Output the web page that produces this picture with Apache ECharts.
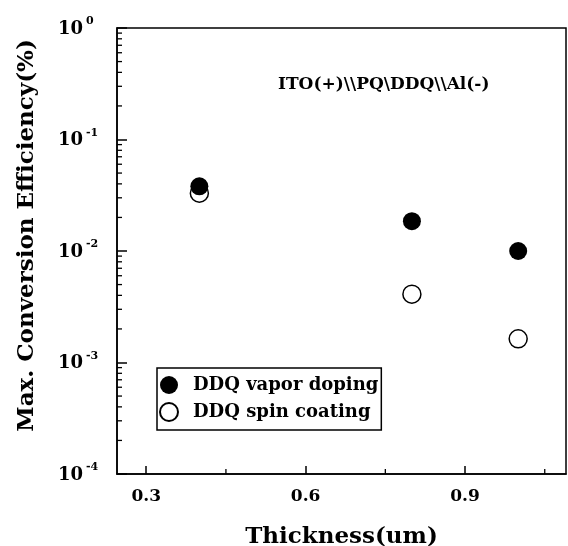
<!DOCTYPE html>
<html>
<head>
<meta charset="utf-8">
<script src="https://cdn.jsdelivr.net/npm/echarts@6/dist/echarts.min.js"></script>
<style>html,body{margin:0;padding:0;background:#fff}#c{width:568px;height:546px}</style>
</head>
<body>
<div id="c"></div>
<script>
// ---- data ----
const thickness = [0.4, 0.8, 1.0];
const vaporDoping = [0.038, 0.0185, 0.0100];
const spinCoating = [0.033, 0.0041, 0.00163];
const seriesNames = ['DDQ vapor doping', 'DDQ spin coating'];
const xMajorTicks = [0.3, 0.6, 0.9];
const xMinorTicks = [0.45, 0.75, 1.05];
const yMajorTicks = [0.0001, 0.001, 0.01, 0.1, 1];
const yMinorMultipliers = [2, 3, 4, 5, 6, 7, 8, 9];
const annotation = 'ITO(+)\\\\PQ\\DDQ\\\\Al(-)';
const xTitle = 'Thickness(um)';
const yTitle = 'Max. Conversion Efficiency(%)';

const X_MIN = 0.245, X_MAX = 1.09;
const FONT = 'DejaVu Serif';

const yMinorTicks = [];
for (let k = 0; k < yMajorTicks.length - 1; k++) {
  yMinorMultipliers.forEach(m => yMinorTicks.push(+(m * yMajorTicks[k]).toPrecision(3)));
}

const chart = echarts.init(document.getElementById('c'), null, {renderer: 'canvas'});

function supLabel(v) {
  const e = Math.round(Math.log10(v));
  return '{b|10}{s|' + (e === 0 ? '0' : '-' + (-e)) + '}';
}

const option = {
  backgroundColor: '#fff',
  animation: false,
  title: {
    text: annotation,
    left: 273, top: 71,
    textStyle: {fontFamily: FONT, fontWeight: 'bold', fontSize: 17, color: '#000'}
  },
  grid: {left: 117, top: 28, right: 2, bottom: 72, show: true, borderColor: '#000', borderWidth: 1.5,
    containLabel: false, outerBoundsMode: 'none'},
  legend: {
    data: seriesNames,
    orient: 'vertical',
    left: 157, top: 368,
    borderColor: '#000', borderWidth: 1.5,
    padding: [8, 3, 8, 2],
    itemGap: 8, itemWidth: 18, itemHeight: 18,
    textStyle: {fontFamily: FONT, fontWeight: 'bold', fontSize: 18, color: '#000', padding: [0, 0, 0, 10]}
  },
  xAxis: {
    type: 'value', min: X_MIN, max: X_MAX,
    name: xTitle, nameLocation: 'middle', nameGap: 52,
    nameTextStyle: {fontFamily: FONT, fontWeight: 'bold', fontSize: 23, color: '#000'},
    axisLine: {lineStyle: {color: '#000', width: 1.5}},
    axisTick: {inside: true, length: 8, customValues: xMajorTicks, lineStyle: {color: '#000', width: 1.5}},
    axisLabel: {customValues: xMajorTicks, margin: 14, color: '#000', fontFamily: FONT, fontWeight: 'bold', fontSize: 17,
      formatter: v => v.toFixed(1)},
    splitLine: {show: false}
  },
  yAxis: {
    type: 'log', logBase: 10, min: 0.0001, max: 1,
    name: yTitle, nameLocation: 'middle', nameGap: 78, nameRotate: 90,
    nameTextStyle: {fontFamily: FONT, fontWeight: 'bold', fontSize: 23, color: '#000', padding: [0, 0, 0, 31]},
    axisLine: {lineStyle: {color: '#000', width: 1.5}},
    axisTick: {inside: true, length: 10, lineStyle: {color: '#000', width: 1.5}},
    axisLabel: {
      align: 'left', margin: 59, color: '#000', padding: [2, 0, 0, 0],
      formatter: supLabel,
      rich: {
        b: {fontFamily: FONT, fontWeight: 'bold', fontSize: 18, lineHeight: 18, verticalAlign: 'bottom', color: '#000'},
        s: {fontFamily: FONT, fontWeight: 'bold', fontSize: 11, lineHeight: 11, verticalAlign: 'bottom', padding: [0, 0, 11, 3], color: '#000'}
      }
    },
    splitLine: {show: false}
  },
  series: [
    {
      name: seriesNames[1], type: 'scatter', symbol: 'circle', symbolSize: 18, z: 3,
      itemStyle: {color: '#fff', borderColor: '#000', borderWidth: 1.5, opacity: 1},
      data: thickness.map((x, i) => [x, spinCoating[i]])
    },
    {
      name: seriesNames[0], type: 'scatter', symbol: 'circle', symbolSize: 18, z: 4,
      itemStyle: {color: '#000', opacity: 1},
      data: thickness.map((x, i) => [x, vaporDoping[i]])
    },
    {
      type: 'custom', silent: true, z: 5,
      data: yMinorTicks.map(v => [X_MIN, v]),
      renderItem: (params, api) => {
        const p = api.coord([api.value(0), api.value(1)]);
        return {type: 'line', shape: {x1: p[0], y1: p[1], x2: p[0] + 5, y2: p[1]}, style: {stroke: '#000', lineWidth: 1.3}};
      }
    },
    {
      type: 'custom', silent: true, z: 5,
      data: xMinorTicks.map(v => [v, 0.0001]),
      renderItem: (params, api) => {
        const p = api.coord([api.value(0), api.value(1)]);
        return {type: 'line', shape: {x1: p[0], y1: p[1], x2: p[0], y2: p[1] - 5}, style: {stroke: '#000', lineWidth: 1.3}};
      }
    }
  ]
};
chart.setOption(option);
</script>
</body>
</html>
